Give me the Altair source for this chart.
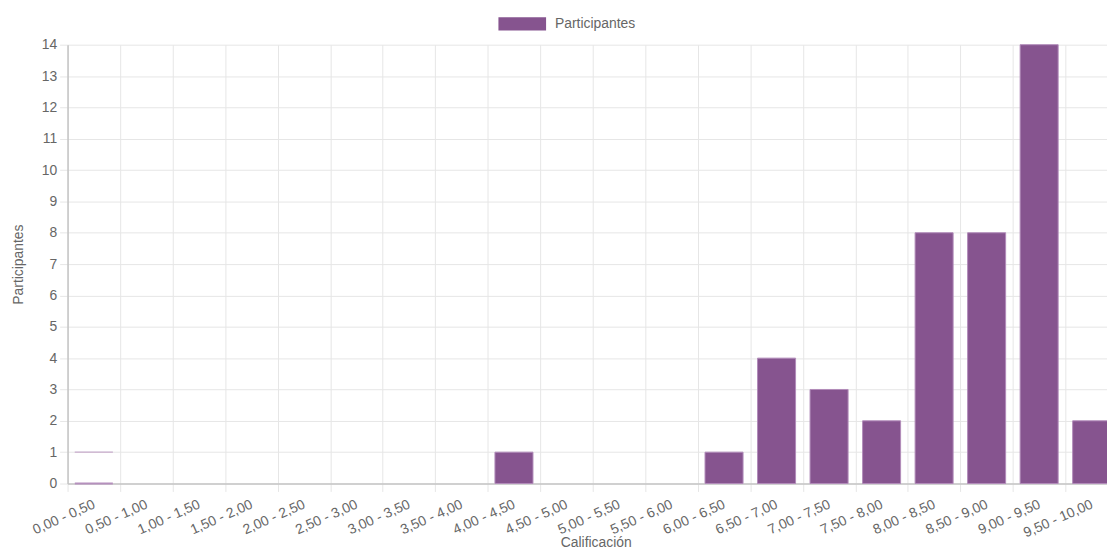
import altair as alt
import pandas as pd

categories = ["0,00 - 0,50", "0,50 - 1,00", "1,00 - 1,50", "1,50 - 2,00", "2,00 - 2,50",
              "2,50 - 3,00", "3,00 - 3,50", "3,50 - 4,00", "4,00 - 4,50", "4,50 - 5,00",
              "5,00 - 5,50", "5,50 - 6,00", "6,00 - 6,50", "6,50 - 7,00", "7,00 - 7,50",
              "7,50 - 8,00", "8,00 - 8,50", "8,50 - 9,00", "9,00 - 9,50", "9,50 - 10,00"]
participants = [0, 0, 0, 0, 0, 0, 0, 0, 1, 0, 0, 0, 1, 4, 3, 2, 8, 8, 14, 2]
faint_top = [1] + [None] * 19
faint_base = [0] + [None] * 19
series_name = "Participantes"
y_ticks = list(range(0, 15))

df = pd.DataFrame({"cat": categories, "value": participants,
                   "ftop": faint_top, "fbase": faint_base, "series": series_name})

FONT = "Liberation Sans"
FS = 14
GRID = "#e6e6e6"
AXIS = "#c4c4c4"
TXT = "#666666"
BAR = "#86548f"
BORDER = "#b18bb9"
BAND = 0.724

x_scale = alt.Scale(domain=categories, range=[0, 1058], paddingInner=0, paddingOuter=0)
y_scale = alt.Scale(domain=[0, 14], nice=False, zero=True)

x_axis = alt.Axis(orient="bottom", grid=True, gridColor=GRID, tickBand="extent",
                  ticks=True, tickSize=8, tickColor=GRID,
                  domain=True, domainColor=AXIS, domainWidth=1.5,
                  labelAngle=-24, labelAlign="right", labelBaseline="middle",
                  labelPadding=12, labelFont=FONT, labelFontSize=FS,
                  labelColor=TXT, labelOverlap=False,
                  title="Calificación", titleFont=FONT, titleFontSize=FS,
                  titleFontWeight="normal", titleColor=TXT,
                  titleX=532, titleY=59, titleBaseline="middle")

y_axis = alt.Axis(values=y_ticks, tickCount=30, format="d", grid=True, gridColor=GRID,
                  tickSize=8, tickColor=GRID, domainColor=AXIS, domainWidth=1.5,
                  labelOverlap=False,
                  labelFont=FONT, labelFontSize=FS, labelColor=TXT,
                  labelPadding=3, title="Participantes", titleFont=FONT,
                  titleFontSize=FS, titleFontWeight="normal", titleColor=TXT,
                  titlePadding=16)

bars = alt.Chart(df).mark_bar(stroke=BORDER, width=alt.RelativeBandSize(BAND)).encode(
    x=alt.X("cat:N", scale=x_scale, sort=categories, axis=x_axis),
    y=alt.Y("value:Q", scale=y_scale, axis=y_axis),
    strokeWidth=alt.condition("datum.value > 0", alt.value(1), alt.value(0)),
    color=alt.Color("series:N", scale=alt.Scale(range=[BAR]),
                    legend=alt.Legend(title=None, orient="none", legendX=434, legendY=-45,
                                      symbolType="M-1,-0.28L1,-0.28L1,0.28L-1,0.28Z",
                                      symbolSize=2304, symbolStrokeWidth=0,
                                      symbolOpacity=1, labelFont=FONT, labelFontSize=FS,
                                      labelColor=TXT, labelOffset=9)),
)

faint_top_layer = alt.Chart(df).mark_bar(fill=None, stroke="#cdb5d1", strokeWidth=1,
                                         width=alt.RelativeBandSize(BAND)).encode(
    x=alt.X("cat:N", scale=x_scale, sort=categories, axis=x_axis),
    y=alt.Y("ftop:Q", scale=y_scale, axis=y_axis),
    y2="ftop:Q",
)

faint_base_layer = alt.Chart(df).mark_bar(fill=None, stroke="#b590bd", strokeWidth=2,
                                          width=alt.RelativeBandSize(BAND)).encode(
    x=alt.X("cat:N", scale=x_scale, sort=categories, axis=x_axis),
    y=alt.Y("fbase:Q", scale=y_scale, axis=y_axis),
    y2="fbase:Q",
)

chart = alt.layer(bars, faint_top_layer, faint_base_layer).properties(
    width=1047, height=442,
    padding={"left": 60, "top": 35, "right": 0, "bottom": 64},
    autosize=alt.AutoSizeParams(type="none"),
).configure_view(stroke=None)

chart.save("out.html", embed_options={"renderer": "svg", "actions": False})
